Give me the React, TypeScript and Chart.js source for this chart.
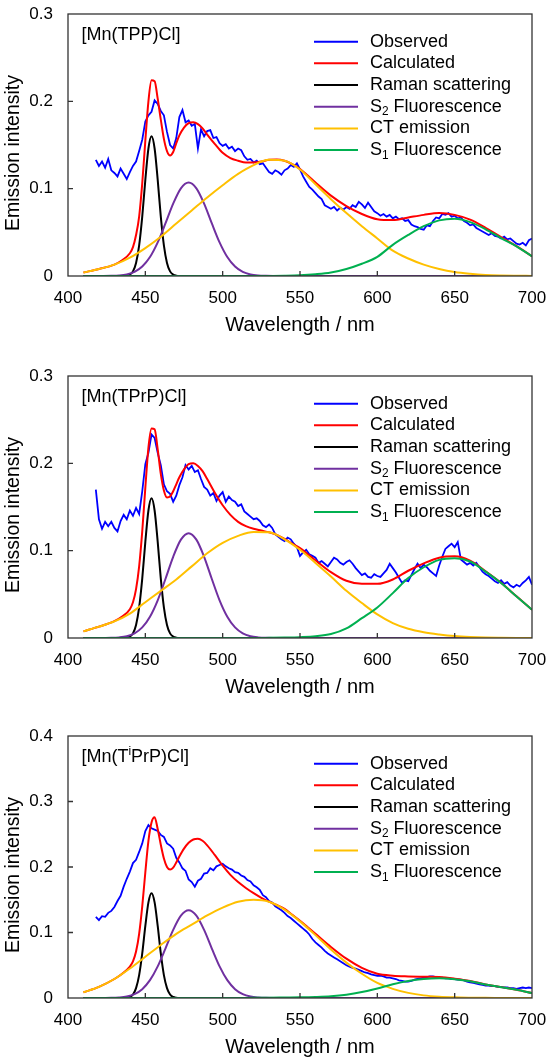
import React, { useEffect, useRef } from 'react';
import { Chart, registerables } from 'chart.js';

Chart.register(...registerables);

const FONT = '"Liberation Sans", Arial, Helvetica, sans-serif';

// ---------- data ----------
const OBS_X = [
  418, 420, 422, 424, 426, 428, 430, 432, 434, 436,
  438, 440, 442, 444, 446, 448, 450, 452, 454, 456,
  458, 460, 462, 464, 466, 468, 470, 472, 474, 476,
  478, 480, 482, 484, 486, 488, 490, 492, 494, 496,
  498, 500, 502, 504, 506, 508, 510, 512, 514, 516,
  518, 520, 522, 524, 526, 528, 530, 532, 534, 536,
  538, 540, 542, 544, 546, 548, 550, 552, 554, 556,
  558, 560, 562, 564, 566, 568, 570, 572, 574, 576,
  578, 580, 582, 584, 586, 588, 590, 592, 594, 596,
  598, 600, 602, 604, 606, 608, 610, 612, 614, 616,
  618, 620, 622, 624, 626, 628, 630, 632, 634, 636,
  638, 640, 642, 644, 646, 648, 650, 652, 654, 656,
  658, 660, 662, 664, 666, 668, 670, 672, 674, 676,
  678, 680, 682, 684, 686, 688, 690, 692, 694, 696,
  698, 700,
];

const OBS_1 = [
  0.133, 0.126, 0.131, 0.124, 0.134, 0.121, 0.118, 0.114, 0.123, 0.117,
  0.111, 0.119, 0.126, 0.131, 0.143, 0.156, 0.177, 0.184, 0.188, 0.201,
  0.197, 0.189, 0.184, 0.165, 0.150, 0.146, 0.158, 0.182, 0.190, 0.176,
  0.178, 0.172, 0.174, 0.146, 0.168, 0.160, 0.166, 0.167, 0.158, 0.159,
  0.152, 0.149, 0.151, 0.146, 0.148, 0.143, 0.146, 0.144, 0.137, 0.133,
  0.134, 0.130, 0.132, 0.128, 0.129, 0.124, 0.119, 0.117, 0.121, 0.119,
  0.116, 0.121, 0.123, 0.127, 0.125, 0.129, 0.122, 0.114, 0.108, 0.102,
  0.099, 0.095, 0.091, 0.088, 0.081, 0.079, 0.077, 0.079, 0.075, 0.078,
  0.076, 0.079, 0.077, 0.081, 0.079, 0.085, 0.082, 0.078, 0.084, 0.079,
  0.074, 0.072, 0.069, 0.071, 0.068, 0.070, 0.066, 0.068, 0.065, 0.066,
  0.063, 0.064, 0.059, 0.057, 0.056, 0.054, 0.053, 0.058, 0.057, 0.063,
  0.067, 0.066, 0.071, 0.070, 0.072, 0.068, 0.069, 0.066, 0.067, 0.063,
  0.061, 0.058, 0.059, 0.055, 0.053, 0.051, 0.049, 0.047, 0.049, 0.046,
  0.045, 0.043, 0.045, 0.042, 0.043, 0.040, 0.037, 0.036, 0.038, 0.035,
  0.041, 0.043,
];

const OBS_2 = [
  0.170, 0.136, 0.125, 0.133, 0.128, 0.133, 0.126, 0.122, 0.134, 0.141,
  0.136, 0.146, 0.140, 0.149, 0.142, 0.168, 0.199, 0.212, 0.233, 0.229,
  0.212, 0.198, 0.176, 0.168, 0.165, 0.156, 0.163, 0.175, 0.184, 0.198,
  0.193, 0.197, 0.190, 0.192, 0.182, 0.173, 0.170, 0.163, 0.166, 0.157,
  0.163, 0.167, 0.156, 0.162, 0.158, 0.156, 0.151, 0.153, 0.145, 0.142,
  0.139, 0.136, 0.137, 0.134, 0.129, 0.127, 0.130, 0.126, 0.119, 0.116,
  0.113, 0.111, 0.115, 0.113, 0.108, 0.104, 0.094, 0.098, 0.101, 0.096,
  0.094, 0.092, 0.086, 0.088, 0.085, 0.082, 0.087, 0.092, 0.090, 0.086,
  0.084, 0.087, 0.089, 0.085, 0.080, 0.076, 0.072, 0.074, 0.070, 0.069,
  0.073, 0.071, 0.070, 0.074, 0.078, 0.085, 0.080, 0.075, 0.069, 0.063,
  0.066, 0.065, 0.072, 0.079, 0.085, 0.080, 0.084, 0.081, 0.077, 0.074,
  0.071, 0.083, 0.093, 0.102, 0.105, 0.108, 0.104, 0.110, 0.090, 0.087,
  0.084, 0.086, 0.083, 0.086, 0.081, 0.076, 0.073, 0.071, 0.068, 0.065,
  0.063, 0.066, 0.062, 0.064, 0.060, 0.058, 0.061, 0.059, 0.063, 0.066,
  0.070, 0.061,
];

const OBS_3 = [
  0.124, 0.119, 0.125, 0.124, 0.130, 0.133, 0.139, 0.148, 0.156, 0.170,
  0.182, 0.193, 0.206, 0.211, 0.223, 0.236, 0.255, 0.264, 0.259, 0.257,
  0.255, 0.249, 0.246, 0.236, 0.233, 0.228, 0.214, 0.207, 0.198, 0.194,
  0.181, 0.177, 0.170, 0.179, 0.182, 0.190, 0.191, 0.198, 0.195, 0.201,
  0.203, 0.205, 0.201, 0.198, 0.196, 0.192, 0.191, 0.187, 0.185, 0.180,
  0.178, 0.172, 0.169, 0.165, 0.157, 0.154, 0.148, 0.146, 0.140, 0.137,
  0.134, 0.130, 0.125, 0.122, 0.118, 0.114, 0.110, 0.106, 0.102, 0.097,
  0.090, 0.085, 0.081, 0.077, 0.072, 0.068, 0.065, 0.062, 0.059, 0.056,
  0.053, 0.050, 0.048, 0.046, 0.045, 0.043, 0.041, 0.039, 0.038, 0.036,
  0.035, 0.034, 0.034, 0.033, 0.031, 0.031, 0.030, 0.029, 0.027, 0.026,
  0.025, 0.025, 0.026, 0.028, 0.029, 0.030, 0.031, 0.032, 0.033, 0.033,
  0.032, 0.031, 0.031, 0.030, 0.030, 0.029, 0.029, 0.028, 0.028, 0.027,
  0.025, 0.024, 0.023, 0.022, 0.021, 0.020, 0.019, 0.019, 0.018, 0.018,
  0.017, 0.017, 0.016, 0.016, 0.015, 0.015, 0.014, 0.015, 0.016, 0.015,
  0.016, 0.015,
];

const CALC_X = [
  410, 420, 430, 435, 440, 442, 444, 446, 448, 450,
  452, 454, 456, 458, 460, 462, 464, 466, 468, 470,
  472, 475, 478, 481, 484, 487, 490, 495, 500, 505,
  510, 515, 520, 525, 530, 535, 540, 545, 550, 555,
  560, 570, 580, 590, 600, 610, 620, 630, 640, 650,
  660, 670, 680, 690, 700,
];

const CALC_1 = [
  0.004, 0.008, 0.013, 0.018, 0.026, 0.033, 0.047, 0.068, 0.106, 0.155,
  0.200, 0.224, 0.223, 0.203, 0.179, 0.157, 0.143, 0.138, 0.142, 0.152,
  0.161, 0.170, 0.175, 0.176, 0.174, 0.169, 0.162, 0.151, 0.141, 0.135,
  0.132, 0.130, 0.130, 0.131, 0.133, 0.1335, 0.132, 0.128, 0.1225, 0.115,
  0.107, 0.092, 0.080, 0.071, 0.065, 0.064, 0.067, 0.070, 0.072, 0.070,
  0.0645, 0.0552, 0.0446, 0.0343, 0.0226,
];

const CALC_2 = [
  0.0076, 0.013, 0.0193, 0.0246, 0.033, 0.041, 0.056, 0.082, 0.122, 0.172,
  0.218, 0.240, 0.239, 0.216, 0.188, 0.169, 0.161, 0.162, 0.168, 0.176,
  0.184, 0.193, 0.199, 0.200, 0.197, 0.191, 0.182, 0.166, 0.152, 0.141,
  0.133, 0.128, 0.125, 0.123, 0.121, 0.118, 0.1135, 0.108, 0.103, 0.096,
  0.089, 0.0755, 0.0655, 0.062, 0.062, 0.067, 0.077, 0.0855, 0.092, 0.0935,
  0.0885, 0.0765, 0.0632, 0.0477, 0.0324,
];

const CALC_3 = [
  0.0087, 0.017, 0.029, 0.037, 0.048, 0.056, 0.071, 0.098, 0.140, 0.192,
  0.240, 0.268, 0.276, 0.258, 0.234, 0.213, 0.200, 0.196, 0.199, 0.207,
  0.216, 0.228, 0.237, 0.242, 0.243, 0.240, 0.233, 0.218, 0.202, 0.188,
  0.177, 0.168, 0.160, 0.153, 0.147, 0.142, 0.136, 0.127, 0.118, 0.108,
  0.098, 0.078, 0.060, 0.046, 0.037, 0.034, 0.033, 0.0325, 0.032, 0.0295,
  0.026, 0.0207, 0.0166, 0.0125, 0.0076,
];

const RAMAN_X = [
  410, 436, 438, 440, 442, 444, 446, 448, 450, 452,
  454, 456, 458, 460, 462, 464, 466, 468, 470, 472, 700,
];
const RAMAN_Y = [
  0, 0.0001, 0.0004, 0.0016, 0.0053, 0.015, 0.035, 0.068, 0.110, 0.146,
  0.160, 0.146, 0.110, 0.068, 0.035, 0.015, 0.0053, 0.0016, 0.0004, 0.0001, 0,
];

const S2_X = [
  410, 423, 428, 433, 438, 443, 448, 453, 458, 463,
  468, 473, 478, 483, 488, 493, 498, 503, 508, 513,
  518, 523, 528, 533, 700,
];
const S2_1 = [
  0, 0.00005, 0.0002, 0.0006, 0.0018, 0.0047, 0.0108, 0.0217, 0.0385, 0.0602,
  0.0829, 0.1004, 0.107, 0.1004, 0.0829, 0.0602, 0.0385, 0.0217, 0.0108, 0.0047,
  0.0018, 0.0006, 0.0002, 0.00005, 0,
];
const S2_2 = [
  0, 0.0001, 0.0002, 0.0007, 0.002, 0.0053, 0.0121, 0.0244, 0.0432, 0.0676,
  0.093, 0.1126, 0.12, 0.1126, 0.093, 0.0676, 0.0432, 0.0244, 0.0121, 0.0053,
  0.002, 0.0007, 0.0002, 0.0001, 0,
];
const S2_3 = [
  0, 0.0001, 0.0002, 0.0008, 0.0023, 0.0059, 0.0135, 0.0272, 0.0482, 0.0754,
  0.1039, 0.1257, 0.134, 0.1257, 0.1039, 0.0754, 0.0482, 0.0272, 0.0135, 0.0059,
  0.0023, 0.0008, 0.0002, 0.0001, 0,
];

const GRID10 = [
  410, 420, 430, 440, 450, 460, 470, 480, 490, 500,
  510, 520, 530, 540, 550, 560, 570, 580, 590, 600,
  610, 620, 630, 640, 650, 660, 670, 680, 690, 700,
];

const CT_1 = [
  0.004, 0.008, 0.013, 0.021, 0.032, 0.045, 0.060, 0.075, 0.090, 0.104,
  0.117, 0.127, 0.133, 0.132, 0.122, 0.105, 0.088, 0.072, 0.057, 0.043,
  0.029, 0.020, 0.013, 0.008, 0.0045, 0.0025, 0.0012, 0.0006, 0.0003, 0.0001,
];
const CT_2 = [
  0.0076, 0.013, 0.019, 0.028, 0.041, 0.054, 0.067, 0.082, 0.097, 0.109,
  0.117, 0.1215, 0.121, 0.113, 0.101, 0.086, 0.0705, 0.054, 0.040, 0.027,
  0.0171, 0.0105, 0.0065, 0.004, 0.0022, 0.0012, 0.0006, 0.0003, 0.0001, 0,
];
const CT_3 = [
  0.0087, 0.017, 0.029, 0.045, 0.063, 0.081, 0.098, 0.112, 0.126, 0.138,
  0.147, 0.150, 0.147, 0.135, 0.117, 0.096, 0.074, 0.054, 0.037, 0.023,
  0.014, 0.0078, 0.004, 0.002, 0.001, 0.0005, 0.0002, 0.0001, 0, 0,
];

const S1_1 = [
  0, 0, 0, 0, 0, 0, 0, 0, 0, 0,
  0, 0, 0.0001, 0.0003, 0.0008, 0.002, 0.004, 0.008, 0.014, 0.022,
  0.0357, 0.047, 0.057, 0.0637, 0.0655, 0.0617, 0.0535, 0.0435, 0.034, 0.0225,
];
const S1_2 = [
  0, 0, 0, 0, 0, 0, 0, 0, 0, 0,
  0, 0, 0.0002, 0.0005, 0.001, 0.002, 0.0045, 0.011, 0.0227, 0.035,
  0.0514, 0.0686, 0.081, 0.0895, 0.0914, 0.0876, 0.076, 0.0629, 0.0476, 0.0324,
];
const S1_3 = [
  0, 0, 0, 0, 0, 0, 0, 0, 0, 0,
  0.0001, 0.0002, 0.0004, 0.0007, 0.001, 0.0016, 0.0027, 0.005, 0.009, 0.0145,
  0.021, 0.026, 0.029, 0.030, 0.0285, 0.0255, 0.0205, 0.0165, 0.0125, 0.0076,
];

const Y_MAX = [0.3, 0.3, 0.4];
const X_MIN = 400;
const X_MAX = 700;
const X_STEP = 50;
const Y_STEP = 0.1;

type Part = [string, '' | 'sub' | 'sup'];

const PANEL_LABELS: Part[][] = [
  [['[Mn(TPP)Cl]', '']],
  [['[Mn(TPrP)Cl]', '']],
  [['[Mn(T', ''], ['i', 'sup'], ['PrP)Cl]', '']],
];

const LEGEND_LABELS: Part[][] = [
  [['Observed', '']],
  [['Calculated', '']],
  [['Raman scattering', '']],
  [['S', ''], ['2', 'sub'], [' Fluorescence', '']],
  [['CT emission', '']],
  [['S', ''], ['1', 'sub'], [' Fluorescence', '']],
];

const COLORS = ['#0000ff', '#ff0000', '#000000', '#7030a0', '#ffc000', '#00b050'];
const WIDTHS = [1.8, 2, 2, 2, 2, 2];

const PANEL_SERIES = [
  [[OBS_X, OBS_1], [CALC_X, CALC_1], [RAMAN_X, RAMAN_Y], [S2_X, S2_1], [GRID10, CT_1], [GRID10, S1_1]],
  [[OBS_X, OBS_2], [CALC_X, CALC_2], [RAMAN_X, RAMAN_Y], [S2_X, S2_2], [GRID10, CT_2], [GRID10, S1_2]],
  [[OBS_X, OBS_3], [CALC_X, CALC_3], [RAMAN_X, RAMAN_Y], [S2_X, S2_3], [GRID10, CT_3], [GRID10, S1_3]],
];

const PANEL_TOPS = [0, 362, 722];

// ---------- drawing helpers ----------
function drawRich(ctx: CanvasRenderingContext2D, parts: Part[], x: number, y: number, size: number) {
  let cx = x;
  for (const [text, kind] of parts) {
    const s = kind ? size * 0.66 : size;
    const dy = kind === 'sub' ? size * 0.3 : kind === 'sup' ? -size * 0.32 : 0;
    ctx.font = `${s}px ${FONT}`;
    ctx.fillText(text, cx, y + dy);
    cx += ctx.measureText(text).width;
  }
}

function makeDeco(panel: number) {
  return {
    id: 'deco' + panel,
    afterDraw(chart: any) {
      const { ctx, chartArea: a, scales } = chart;
      const xs = scales.x;
      const ys = scales.y;
      ctx.save();
      // frame
      ctx.strokeStyle = '#333333';
      ctx.lineWidth = 1.3;
      ctx.strokeRect(a.left, a.top, a.right - a.left, a.bottom - a.top);
      // inward ticks
      ctx.beginPath();
      xs.ticks.forEach((t: any) => {
        if (t.value > xs.min && t.value < xs.max) {
          const px = xs.getPixelForValue(t.value);
          ctx.moveTo(px, a.bottom);
          ctx.lineTo(px, a.bottom - 5);
        }
      });
      ys.ticks.forEach((t: any) => {
        if (t.value > ys.min && t.value < ys.max) {
          const py = ys.getPixelForValue(t.value);
          ctx.moveTo(a.left, py);
          ctx.lineTo(a.left + 5, py);
        }
      });
      ctx.stroke();

      ctx.fillStyle = '#000';
      ctx.textBaseline = 'middle';
      ctx.textAlign = 'left';

      // legend
      const ds = chart.data.datasets;
      LEGEND_LABELS.forEach((parts, i) => {
        const y = a.top + 27.7 + i * 21.67;
        ctx.strokeStyle = ds[i].borderColor;
        ctx.lineWidth = 2;
        ctx.beginPath();
        ctx.moveTo(a.right - 218, y);
        ctx.lineTo(a.right - 174, y);
        ctx.stroke();
        ctx.fillStyle = '#000';
        drawRich(ctx, parts, a.right - 162, y, 18);
      });

      // panel label
      drawRich(ctx, PANEL_LABELS[panel], a.left + 13.4, a.top + 21.3, 18);

      // y title
      ctx.save();
      ctx.translate(13.8, a.top + 139);
      ctx.rotate(-Math.PI / 2);
      ctx.textAlign = 'center';
      ctx.font = `19.5px ${FONT}`;
      ctx.fillText('Emission intensity', 0, 0);
      ctx.restore();

      ctx.restore();
    },
  };
}

function Panel({ panel }: { panel: number }) {
  const ref = useRef<HTMLCanvasElement | null>(null);
  useEffect(() => {
    if (!ref.current) return;
    const series = PANEL_SERIES[panel];
    const datasets = series.map(([xs, ys], i) => ({
      data: (xs as number[]).map((x, k) => ({ x, y: (ys as number[])[k] })),
      borderColor: COLORS[i],
      backgroundColor: COLORS[i],
      borderWidth: WIDTHS[i],
      pointRadius: 0,
      fill: false,
      tension: i === 0 ? 0 : 0.4,
      cubicInterpolationMode: i === 0 ? 'default' : 'monotone',
      order: 6 - i,
    }));
    const chart = new Chart(ref.current, {
      type: 'line',
      data: { datasets } as any,
      options: {
        animation: false,
        responsive: true,
        maintainAspectRatio: false,
        layout: { padding: { top: 14, right: 18, bottom: 0, left: 0 } },
        plugins: { legend: { display: false }, tooltip: { enabled: false } },
        events: [],
        scales: {
          x: {
            type: 'linear',
            min: X_MIN,
            max: X_MAX,
            ticks: {
              stepSize: X_STEP,
              padding: 12,
              color: '#000',
              font: { family: FONT, size: 17 },
              maxRotation: 0,
              autoSkip: false,
            },
            grid: { display: false, drawTicks: false },
            border: { display: false },
            title: {
              display: true,
              text: 'Wavelength / nm',
              color: '#000',
              font: { family: FONT, size: 20 },
              padding: { top: 0, bottom: 3 },
            },
            afterFit: (s: any) => {
              s.height = 64;
              s.paddingLeft = 0;
              s.paddingRight = 0;
            },
          },
          y: {
            type: 'linear',
            min: 0,
            max: Y_MAX[panel],
            ticks: {
              stepSize: Y_STEP,
              padding: 15,
              color: '#000',
              font: { family: FONT, size: 17 },
              callback: (v: any) => Number(v).toFixed(1).replace(/\.0$/, ''),
            },
            grid: { display: false, drawTicks: false },
            border: { display: false },
            afterFit: (s: any) => {
              s.width = 68;
              s.paddingTop = 0;
              s.paddingBottom = 0;
            },
          },
        },
      } as any,
      plugins: [makeDeco(panel)],
    });
    return () => chart.destroy();
  }, [panel]);
  return (
    <div style={{ position: 'absolute', left: 0, top: PANEL_TOPS[panel], width: 550, height: 340 }}>
      <canvas ref={ref} />
    </div>
  );
}

export default function App() {
  return (
    <div>
      <Panel panel={0} />
      <Panel panel={1} />
      <Panel panel={2} />
    </div>
  );
}
